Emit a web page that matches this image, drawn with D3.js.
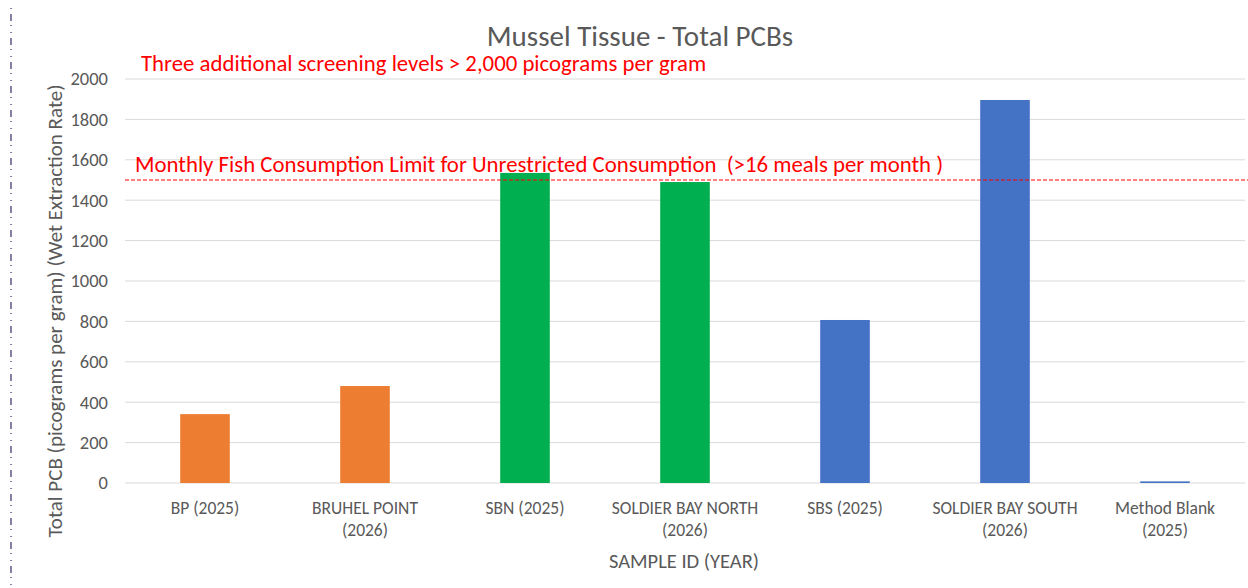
<!DOCTYPE html>
<html>
<head>
<meta charset="utf-8">
<script src="https://cdn.jsdelivr.net/npm/d3@7"></script>
<style>
  body { margin: 0; background: #fff; }
  svg { display: block; font-family: Calibri, Carlito, Lato, "Open Sans", sans-serif; }
</style>
</head>
<body>
<svg class="chart" width="1248" height="588"></svg>
<script>
const categories = [
  ['BP (2025)'],
  ['BRUHEL POINT', '(2026)'],
  ['SBN (2025)'],
  ['SOLDIER BAY NORTH', '(2026)'],
  ['SBS (2025)'],
  ['SOLDIER BAY SOUTH', '(2026)'],
  ['Method Blank', '(2025)']
]
const values = [341, 480, 1535, 1490, 807, 1896, 8]
const colors = ['#ED7D31', '#ED7D31', '#00B050', '#00B050', '#4472C4', '#4472C4', '#4472C4']
const yTicks = [0, 200, 400, 600, 800, 1000, 1200, 1400, 1600, 1800, 2000]
const limit = 1500

const margin = { left: 125, right: 3, top: 79, bottom: 105 }
const width = 1248
const height = 588

const svg = d3.select('svg.chart')

// odd dotted border on the left edge of the screenshot
svg.append('line')
  .attr('x1', 11).attr('x2', 11)
  .attr('y1', 8).attr('y2', 588)
  .attr('stroke', '#3a2a6a')
  .attr('stroke-width', 1.2)
  .attr('stroke-dasharray', '1 5 7 4 1 6')

const x = d3.scaleBand()
  .domain(d3.range(categories.length))
  .range([margin.left, width - margin.right])
  .paddingInner(0.69)
  .paddingOuter(0.345)

const y = d3.scaleLinear()
  .domain([0, 2000])
  .range([height - margin.bottom, margin.top])

// grid
svg.append('g')
  .selectAll('line')
  .data(yTicks)
  .join('line')
  .attr('x1', margin.left)
  .attr('x2', width - margin.right)
  .attr('y1', d => y(d))
  .attr('y2', d => y(d))
  .attr('stroke', '#d9d9d9')
  .attr('stroke-width', 1)

// y tick labels
svg.append('g')
  .selectAll('text')
  .data(yTicks)
  .join('text')
  .attr('x', 108)
  .attr('y', d => y(d))
  .attr('dy', '0.35em')
  .attr('text-anchor', 'end')
  .attr('fill', '#595959')
  .attr('font-size', 18.5)
  .text(d => d)

// bars
svg.append('g')
  .selectAll('rect')
  .data(values)
  .join('rect')
  .attr('x', (d, i) => x(i))
  .attr('width', x.bandwidth())
  .attr('y', d => y(d))
  .attr('height', d => y(0) - y(d))
  .attr('fill', (d, i) => colors[i])

// x labels
const xl = svg.append('g')
  .selectAll('text')
  .data(categories)
  .join('text')
  .attr('x', (d, i) => x(i) + x.bandwidth() / 2)
  .attr('y', 514)
  .attr('text-anchor', 'middle')
  .attr('fill', '#595959')
  .attr('font-size', 17.5)
xl.selectAll('tspan')
  .data(d => d)
  .join('tspan')
  .attr('x', function () { return this.parentNode.getAttribute('x') })
  .attr('dy', (d, i) => i === 0 ? 0 : 22)
  .text(d => d)

// limit line
svg.append('line')
  .attr('x1', margin.left)
  .attr('x2', width)
  .attr('y1', y(limit))
  .attr('y2', y(limit))
  .attr('stroke', '#FF0000')
  .attr('stroke-width', 1.2)
  .attr('stroke-dasharray', '4 2')

svg.append('text')
  .attr('x', 135)
  .attr('y', 172)
  .attr('fill', '#FF0000')
  .attr('font-size', 22.8)
  .style('white-space', 'pre')
  .text('Monthly Fish Consumption Limit for Unrestricted Consumption  (>16 meals per month )')

svg.append('text')
  .attr('x', 141)
  .attr('y', 71)
  .attr('fill', '#FF0000')
  .attr('font-size', 22.8)
  .text('Three additional screening levels > 2,000 picograms per gram')

// title
svg.append('text')
  .attr('x', 640)
  .attr('y', 46)
  .attr('text-anchor', 'middle')
  .attr('fill', '#595959')
  .attr('font-size', 29)
  .text('Mussel Tissue - Total PCBs')

// axis titles
svg.append('text')
  .attr('transform', `translate(62, 311) rotate(-90)`)
  .attr('text-anchor', 'middle')
  .attr('fill', '#595959')
  .attr('font-size', 21)
  .text('Total PCB (picograms per gram) (Wet Extraction Rate)')

svg.append('text')
  .attr('x', 684)
  .attr('y', 568)
  .attr('text-anchor', 'middle')
  .attr('fill', '#595959')
  .attr('font-size', 20.5)
  .text('SAMPLE ID (YEAR)')
</script>
</body>
</html>
